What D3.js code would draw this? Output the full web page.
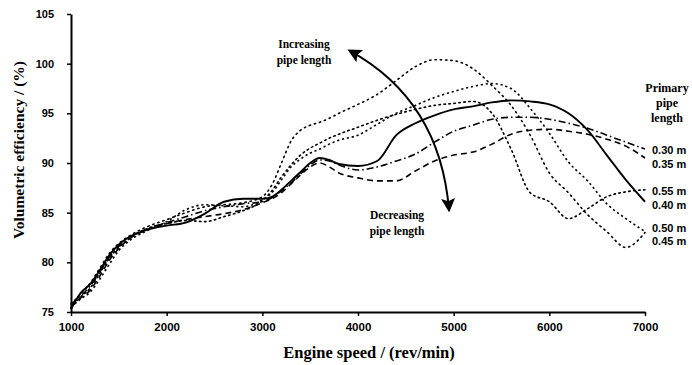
<!DOCTYPE html>
<html>
<head>
<meta charset="utf-8">
<script src="https://cdn.jsdelivr.net/npm/d3@7"></script>
<style>
  body { margin: 0; background: #fff; }
  svg { display: block; }
  .tick text { font-family: "Liberation Sans", Arial, sans-serif; font-weight: bold; }
</style>
</head>
<body>
<svg id="chart" width="692" height="365"></svg>
<script>
// engine speed grid (rev/min)
const rpm = [1000, 1100, 1200, 1300, 1400, 1500, 1600, 1800, 2000, 2200, 2400, 2600, 2800,
             3000, 3100, 3200, 3300, 3400, 3500, 3600, 3700, 3800,
             4000, 4200, 4400, 4600, 4800, 5000, 5200, 5400, 5600, 5800, 6000, 6200, 6400, 6600, 6800, 7000];

// volumetric efficiency (%) per primary pipe length
const ve030 = [75.8, 76.6, 77.6, 79.0, 80.5, 81.6, 82.4, 83.4, 84.0, 84.6, 85.2, 85.6, 85.9,
               86.1, 86.5, 87.2, 88.0, 88.9, 89.8, 90.3, 90.2, 89.8,
               89.3, 89.6, 90.2, 90.9, 92.1, 93.2, 93.8, 94.4, 94.6, 94.6, 94.4, 94.0, 93.5, 92.8, 92.1, 91.4];
const ve035 = [75.6, 76.4, 77.2, 78.6, 80.2, 81.4, 82.3, 83.3, 83.9, 84.3, 84.6, 84.9, 85.3,
               86.0, 86.4, 87.0, 87.9, 88.8, 89.6, 90.0, 89.6, 89.0,
               88.5, 88.2, 88.2, 89.2, 90.2, 90.8, 91.1, 91.9, 92.9, 93.3, 93.4, 93.2, 92.9, 92.4, 91.7, 90.5];
const ve040 = [75.3, 76.9, 77.8, 79.2, 80.7, 81.8, 82.5, 83.3, 83.7, 84.0, 84.9, 86.1, 86.4,
               86.4, 86.6, 87.3, 88.2, 89.1, 90.0, 90.5, 90.3, 89.9,
               89.7, 90.2, 92.8, 94.0, 94.8, 95.4, 95.7, 96.1, 96.3, 96.2, 95.9, 95.0, 93.3, 90.8, 88.3, 86.1];
const ve045 = [75.8, 76.8, 77.9, 79.4, 80.9, 81.9, 82.6, 83.6, 84.3, 85.0, 85.6, 85.8, 86.0,
               86.6, 87.8, 90.0, 92.2, 93.3, 93.8, 94.1, 94.5, 95.0,
               95.9, 96.9, 98.3, 99.7, 100.4, 100.3, 99.5, 97.8, 95.8, 92.8, 89.0, 87.0, 84.8, 83.1, 81.5, 83.0];
const ve050 = [75.5, 76.3, 77.0, 78.3, 79.8, 81.2, 82.1, 83.2, 84.1, 85.3, 85.8, 85.7, 85.6,
               86.3, 87.0, 88.3, 89.6, 90.4, 91.0, 91.4, 91.9, 92.3,
               92.8, 93.9, 95.0, 95.8, 96.6, 97.2, 97.7, 98.0, 97.5, 95.5, 93.0, 90.1, 88.2, 85.9, 84.4, 83.1];
const ve055 = [75.4, 76.5, 77.4, 78.9, 80.4, 81.5, 82.3, 83.4, 83.9, 84.2, 84.1, 84.6, 85.2,
               86.2, 87.2, 88.6, 89.8, 90.8, 91.5, 92.0, 92.5, 92.9,
               93.6, 94.3, 94.9, 95.4, 95.8, 96.0, 96.2, 95.0, 91.4, 87.0, 86.1, 84.4, 85.4, 86.6, 87.1, 87.3];

const pipeNames = ["0.30 m", "0.35 m", "0.40 m", "0.45 m", "0.50 m", "0.55 m"];
const pipeValues = [ve030, ve035, ve040, ve045, ve050, ve055];

const xTicks = [1000, 2000, 3000, 4000, 5000, 6000, 7000];
const yTicks = [75, 80, 85, 90, 95, 100, 105];

// line styles per series
const dashes = {
  "0.30 m": "7,3,1.5,3",
  "0.35 m": "6,4",
  "0.40 m": null,
  "0.45 m": "1.3,4",
  "0.50 m": "2.2,2.8",
  "0.55 m": "1.5,3.5"
};
// small vertical nudges (px) so end labels don't collide
const labelNudge = { "0.30 m": 1, "0.35 m": 6, "0.40 m": 3, "0.45 m": 9, "0.50 m": -3, "0.55 m": 1 };

const svg = d3.select("#chart");
const xScale = d3.scaleLinear().domain([1000, 7000]).range([71, 645]);
const yScale = d3.scaleLinear().domain([75, 105]).range([312, 14]);

// axes
const xAxis = svg.append("g")
  .attr("transform", `translate(0, ${yScale(75)})`)
  .call(d3.axisBottom(xScale).tickValues(xTicks).tickSize(4).tickSizeOuter(0).tickPadding(7).tickFormat(d3.format("d")));
xAxis.selectAll("text").style("font-size", "11.5px");

const yAxis = svg.append("g")
  .attr("transform", `translate(${xScale(1000)}, 0)`)
  .call(d3.axisLeft(yScale).tickValues(yTicks).tickSize(4).tickSizeOuter(0).tickPadding(13).tickFormat(d3.format("d")));
yAxis.selectAll("text").style("font-size", "11px");

svg.selectAll(".domain").attr("stroke-width", 2);
svg.selectAll(".tick line").attr("stroke-width", 1.5);

// curves
const line = d3.line()
  .x((d, i) => xScale(rpm[i]))
  .y(d => yScale(d))
  .curve(d3.curveMonotoneX);

svg.append("g").selectAll("path")
  .data(pipeNames)
  .enter()
  .append("path")
  .attr("d", (n, i) => line(pipeValues[i]))
  .attr("fill", "none")
  .attr("stroke", "#000")
  .attr("stroke-width", n => n === "0.40 m" ? 1.9 : 1.6)
  .attr("stroke-linecap", n => dashes[n] && dashes[n].startsWith("1") ? "round" : "butt")
  .attr("stroke-dasharray", n => dashes[n]);

// end labels
svg.append("g").selectAll("text")
  .data(pipeNames)
  .enter()
  .append("text")
  .attr("x", xScale(7000) + 7)
  .attr("y", (n, i) => yScale(pipeValues[i][pipeValues[i].length - 1]) + labelNudge[n])
  .attr("dy", "0.35em")
  .style("font-family", "'Liberation Sans', Arial, sans-serif")
  .style("font-weight", "bold")
  .style("font-size", "11px")
  .text(n => n);

// legend heading
const head = svg.append("text")
  .attr("x", 667).attr("y", 92)
  .attr("text-anchor", "middle")
  .style("font-family", "'Liberation Serif', 'Times New Roman', serif")
  .style("font-weight", "bold")
  .style("font-size", "12px");
["Primary", "pipe", "length"].forEach((t, i) => head.append("tspan").attr("x", 667).attr("dy", i ? 15 : 0).text(t));

// trend arrow (defined in data units)
const defs = svg.append("defs");
defs.append("marker")
  .attr("id", "head")
  .attr("viewBox", "0 0 10 10")
  .attr("refX", 8).attr("refY", 5)
  .attr("markerWidth", 7).attr("markerHeight", 7)
  .attr("orient", "auto-start-reverse")
  .append("path").attr("d", "M0,0 L10,5 L0,10 L2,5 Z").attr("fill", "#000");

const arrowFrom = [3916, 101.3], arrowCtrl = [4857, 96.3], arrowTo = [4951, 85.3];
const ap = d3.path();
ap.moveTo(xScale(arrowFrom[0]), yScale(arrowFrom[1]));
ap.quadraticCurveTo(xScale(arrowCtrl[0]), yScale(arrowCtrl[1]), xScale(arrowTo[0]), yScale(arrowTo[1]));
svg.append("path")
  .attr("d", ap.toString())
  .attr("fill", "none")
  .attr("stroke", "#000")
  .attr("stroke-width", 2)
  .attr("marker-start", "url(#head)")
  .attr("marker-end", "url(#head)");

function note(x, y, lines) {
  const t = svg.append("text")
    .attr("x", x).attr("y", y)
    .attr("text-anchor", "middle")
    .style("font-family", "'Liberation Serif', 'Times New Roman', serif")
    .style("font-weight", "bold")
    .style("font-size", "11.5px");
  lines.forEach((s, i) => t.append("tspan").attr("x", x).attr("dy", i ? 16 : 0).text(s));
}
note(304, 48, ["Increasing", "pipe length"]);
note(397, 219, ["Decreasing", "pipe length"]);

// axis titles
svg.append("text")
  .attr("x", 369).attr("y", 358)
  .attr("text-anchor", "middle")
  .style("font-family", "'Liberation Serif', 'Times New Roman', serif")
  .style("font-weight", "bold")
  .style("font-size", "16.5px")
  .text("Engine speed / (rev/min)");

svg.append("text")
  .attr("transform", "translate(24, 150) rotate(-90)")
  .attr("text-anchor", "middle")
  .style("font-family", "'Liberation Serif', 'Times New Roman', serif")
  .style("font-weight", "bold")
  .style("font-size", "15.5px")
  .text("Volumetric efficiency / (%)");
</script>
</body>
</html>
